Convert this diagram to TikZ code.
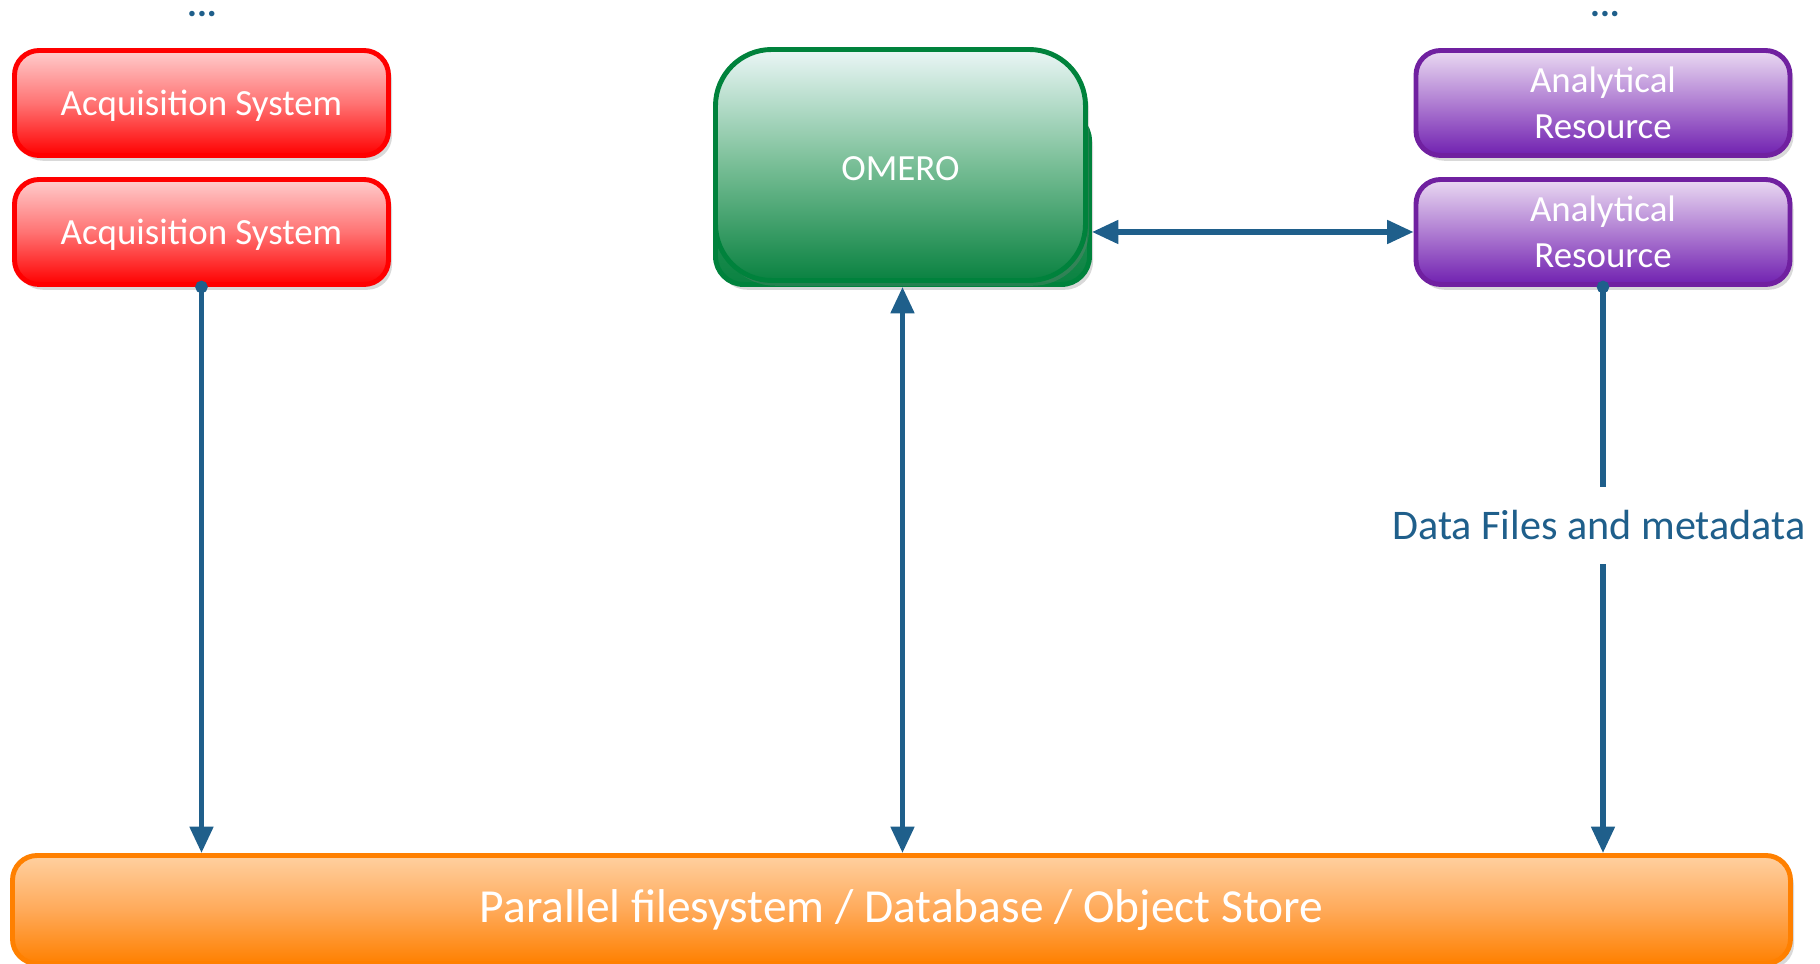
\documentclass[tikz,border=0pt]{standalone}
\usepackage{fontspec}
\setmainfont{Carlito}
\usetikzlibrary{arrows.meta,shadows}
\definecolor{linkblue}{RGB}{31,95,139}
\definecolor{acqline}{RGB}{255,0,0}
\definecolor{acqtop}{RGB}{255,205,205}
\definecolor{acqmid}{RGB}{255,115,115}
\definecolor{analine}{RGB}{112,32,160}
\definecolor{anatop}{RGB}{234,218,242}
\definecolor{anamid}{RGB}{175,125,210}
\definecolor{anabot}{RGB}{112,32,176}
\definecolor{omline}{RGB}{0,130,60}
\definecolor{omtop}{RGB}{234,246,246}
\definecolor{ommid}{RGB}{120,190,150}
\definecolor{ombot}{RGB}{10,130,65}
\definecolor{stline}{RGB}{255,128,0}
\definecolor{sttop}{RGB}{255,208,160}
\definecolor{stmid}{RGB}{255,170,90}
\begin{document}
\begin{tikzpicture}
  [line width = 1.4pt,
   box/.style = {rounded corners = 7pt, minimum width = 3.74cm, minimum height = 1.05cm,
     text = white, align = center, font = \fontsize{10.5}{13}\selectfont,
     drop shadow = {opacity = .3, shadow xshift = 1pt, shadow yshift = -1.5pt}},
   acq/.style = {box, text height = .9em, draw = acqline, top color = acqtop, bottom color = acqline, middle color = acqmid},
   ana/.style = {box, draw = analine, top color = anatop, bottom color = anabot, middle color = anamid},
   omerobox/.style = {box, text height = .9em, rounded corners = 16pt, draw = omline, top color = omtop, bottom color = ombot, middle color = ommid},
   store/.style = {box, text height = .95em, minimum width = 17.78cm, minimum height = 1.08cm, font = \fontsize{13.5}{16}\selectfont,
     draw = stline, top color = sttop, bottom color = stline, middle color = stmid},
   dots/.style = {anchor = base, inner sep = 0pt, text = linkblue, font = \fontsize{10.5}{12}\selectfont\bfseries},
   datatext/.style = {inner sep = 0pt, minimum height = .73cm, text = linkblue, font = \fontsize{12}{14}\selectfont},
   link/.style = {draw = linkblue, line width = 1.5pt},
   tip/.tip = {Triangle[width = 6.5pt, length = 7.5pt]},
   dot/.tip = {Circle[length = 3.5pt]}]
  \useasboundingbox (0,0) rectangle (18.2,9.64);

  % sources and consumers
  \node[acq] (acqA) at (2.015,8.61) {Acquisition System};
  \node[acq] (acqB) at (2.015,7.32) {Acquisition System};
  \node[ana] (anaA) at (16.03,8.61) {Analytical\\Resource};
  \node[ana] (anaB) at (16.03,7.32) {Analytical\\Resource};
  \node[dots] (dotsL) at (2.02,9.47) {...};
  \node[dots] (dotsR) at (16.05,9.47) {...};

  % omero, two stacked shapes
  \node[omerobox, rounded corners = 8pt, minimum width = 3.74cm, minimum height = 1.72cm, middle color = ombot!70!ommid] (omeroB) at (9.025,7.655) {};
  \node[omerobox, minimum width = 3.70cm, minimum height = 2.31cm] (omero) at (9.005,7.99) {OMERO};

  % storage
  \node[store] (store) at (9.015,0.545) {Parallel filesystem / Database / Object Store};
  \node[datatext] (meta) at (15.99,4.385) {Data Files and metadata};

  \draw[link, dot-tip, shorten <= -1.75pt] (acqB.south) -- (acqB.south |- store.north);
  \draw[link, tip-tip] (omeroB.south) -- (omeroB.south |- store.north);
  \draw[link, tip-tip] (omeroB.east |- anaB.west) -- (anaB.west);
  \draw[link, dot-, shorten <= -1.75pt] (anaB.south) -- (anaB.south |- meta.north);
  \draw[link, -tip] (anaB.south |- meta.south) -- (anaB.south |- store.north);
\end{tikzpicture}
\end{document}
